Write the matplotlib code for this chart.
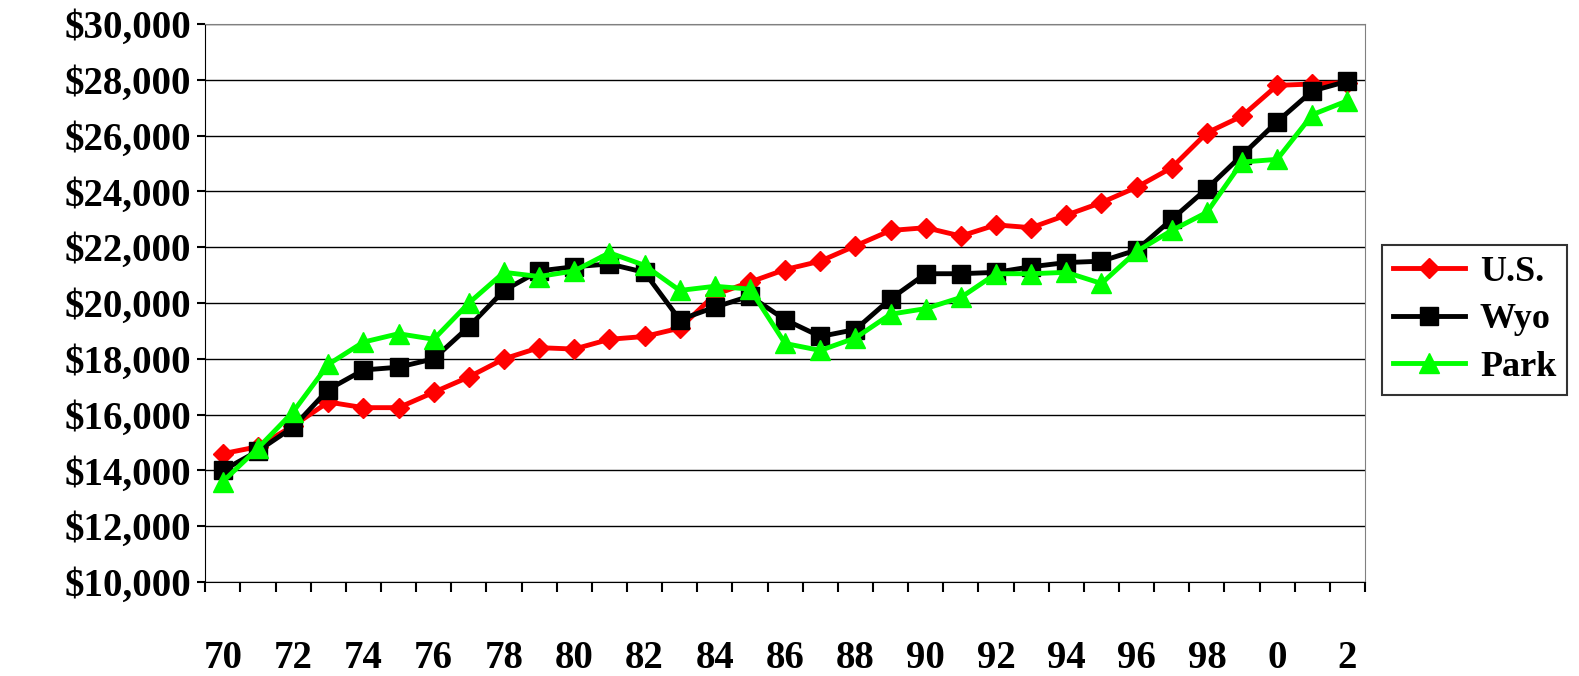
import matplotlib
matplotlib.use("Agg")
import matplotlib.pyplot as plt
import numpy as np

years = ["70","71","72","73","74","75","76","77","78","79","80","81","82","83","84","85","86","87","88","89","90","91","92","93","94","95","96","97","98","99","0","1","2"]
us = [14600,14850,15600,16450,16250,16250,16800,17350,18000,18400,18350,18700,18800,19100,20300,20750,21200,21500,22050,22600,22700,22400,22800,22700,23150,23600,24150,24850,26100,26700,27800,27850,27900]
wyo = [14000,14700,15550,16900,17600,17700,18000,19150,20450,21150,21300,21400,21100,19400,19850,20250,19400,18800,19050,20150,21050,21050,21100,21300,21450,21500,21900,23000,24100,25300,26500,27600,27950]
park = [13600,14800,16100,17800,18600,18900,18700,20000,21100,20950,21150,21800,21350,20450,20600,20500,18550,18300,18750,19600,19800,20200,21050,21050,21100,20700,21850,22600,23250,25050,25150,26750,27250]

plt.rcParams['font.family'] = ['Liberation Serif', 'DejaVu Serif']
fig = plt.figure(figsize=(15.79, 6.76), dpi=100)
ax = fig.add_axes([0.13, 0.139, 0.7345, 0.8255])
x = np.arange(len(years))
ax.plot(x, us, color='#ff0000', marker='D', ms=10, lw=3.5, label='U.S.')
ax.plot(x, wyo, color='#000000', marker='s', ms=13, lw=3.5, label='Wyo')
ax.plot(x, park, color='#00ff00', marker='^', ms=15, lw=3.5, label='Park')
ax.set_xlim(-0.5, len(years)-0.5)
ax.set_ylim(10000, 30000)
yt = np.arange(10000, 30001, 2000)
ax.set_yticks(yt)
ax.set_yticklabels([f"${v:,}" for v in yt], fontsize=28, fontweight='bold')
ax.yaxis.grid(True, color='black', lw=1)
ax.set_xticks(x[::2])
ax.set_xticklabels(years[::2], fontsize=28, fontweight='bold')
ax.tick_params(axis='x', length=0, pad=42)
ax.set_xticks(np.arange(-0.5, len(years), 1), minor=True)
ax.tick_params(axis='x', which='minor', length=7, width=1.5, direction='out')
ax.tick_params(axis='y', length=6, width=1.5, pad=4)
for s in ax.spines.values():
    s.set_color('#808080')
ax.spines['left'].set_color('black'); ax.spines['bottom'].set_color('black')
leg = ax.legend(loc='center left', bbox_to_anchor=(1.015, 0.47), prop={'size': 26, 'weight': 'bold'},
                frameon=True, fancybox=False, edgecolor='black', handlelength=2.0, handletextpad=0.4,
                borderpad=0.3, labelspacing=0.4, borderaxespad=0)
leg.get_frame().set_linewidth(1.5)
fig.savefig("out.png", dpi=100)
